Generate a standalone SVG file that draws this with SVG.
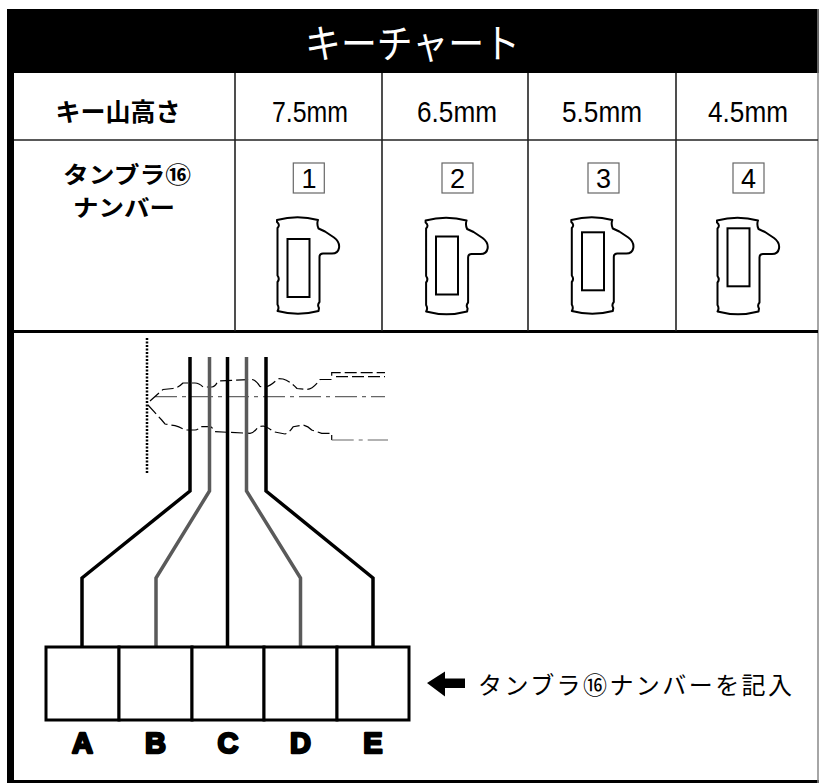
<svg xmlns="http://www.w3.org/2000/svg" width="819" height="783" viewBox="0 0 819 783">
<style>
.jp{font-family:"Noto Sans CJK JP","Noto Sans",sans-serif;}
.num{font-family:"Liberation Sans",Arial,sans-serif;fill:#000;}
.grid{stroke:#222;stroke-width:1.6;fill:none}
.tumb{fill:none;stroke:#000;stroke-width:2;stroke-linejoin:round}
.inner{fill:none;stroke:#000;stroke-width:2}
.nbox{fill:#fff;stroke:#666;stroke-width:1.2}
.wire{fill:none;stroke-width:3.5;stroke-linejoin:miter}
.blk{stroke:#000}
.gry{stroke:#5a5a5a}
.slot{fill:#fff;stroke:#000;stroke-width:3}
.lbl{font-family:"Liberation Sans",Arial,sans-serif;font-weight:bold;font-size:29px;fill:#000;stroke:#000;stroke-width:2.4;stroke-linejoin:round;text-anchor:middle}
.kp{fill:none;stroke:#000;stroke-width:1.2;stroke-dasharray:12 4}
.kc{fill:none;stroke:#666;stroke-width:1.2;stroke-dasharray:22 5 4 5}
</style>
<defs>
<path id="tb" d="M0,4 Q20.5,-1.5 41,4 Q39.5,8 41.5,12.5 L48,15.5 L57,21.5 Q63,26 62,32 Q61,37.5 55,37.5 L46,37.5 Q42.5,37.5 42.5,41 L42.5,86 Q40,89 42,92 L41.5,95 Q21,100.5 0.5,95 Q2.5,92 0.5,88.5 L0.5,66 Q3,63 0.5,59.5 L0.5,12 Q3.5,9 0,6 Z"/>
</defs>
<rect width="819" height="783" fill="#fff"/>

<g id="frame">
<rect x="7" y="9" width="812" height="64" fill="#000"/>
<rect x="7" y="9" width="7" height="774" fill="#000"/>
<rect x="7" y="780" width="812" height="3" fill="#000"/>
<line x1="818" y1="9" x2="818" y2="783" stroke="#888" stroke-width="1.5"/>
<text class="jp" x="305" y="58" font-size="40" fill="#fff" textLength="215" lengthAdjust="spacingAndGlyphs">キーチャート</text>
</g>

<g id="table">
<line class="grid" x1="14" y1="140" x2="818" y2="140" stroke-width="2"/>
<line x1="14" y1="331.5" x2="818" y2="331.5" stroke="#000" stroke-width="3"/>
<line class="grid" x1="235" y1="73" x2="235" y2="331"/>
<line class="grid" x1="382" y1="73" x2="382" y2="331"/>
<line class="grid" x1="528" y1="73" x2="528" y2="331"/>
<line class="grid" x1="676" y1="73" x2="676" y2="331"/>
<text class="jp" x="118" y="121" font-size="25" font-weight="bold" text-anchor="middle">キー山高さ</text>
<text class="num" x="272" y="121.5" font-size="30" textLength="76" lengthAdjust="spacingAndGlyphs">7.5mm</text>
<text class="num" x="417" y="121.5" font-size="30" textLength="80" lengthAdjust="spacingAndGlyphs">6.5mm</text>
<text class="num" x="562" y="121.5" font-size="30" textLength="80" lengthAdjust="spacingAndGlyphs">5.5mm</text>
<text class="num" x="708" y="121.5" font-size="30" textLength="80" lengthAdjust="spacingAndGlyphs">4.5mm</text>
<text class="jp" x="127" y="183" font-size="23" font-weight="bold" text-anchor="middle" textLength="128" lengthAdjust="spacingAndGlyphs">タンブラ⑯</text>
<text class="jp" x="124" y="216" font-size="23" font-weight="bold" text-anchor="middle" textLength="102" lengthAdjust="spacingAndGlyphs">ナンバー</text>
</g>

<g id="tumbler1">
<rect class="nbox" x="293.3" y="163" width="31" height="30"/>
<text class="num" x="309" y="188" font-size="27" text-anchor="middle">1</text>
<use href="#tb" class="tumb" x="277" y="216"/>
<rect class="inner" x="287.5" y="239" width="22" height="58"/>
</g>
<g id="tumbler2">
<rect class="nbox" x="442" y="163" width="31" height="30"/>
<text class="num" x="457.5" y="188" font-size="27" text-anchor="middle">2</text>
<use href="#tb" class="tumb" x="425.6" y="216.5"/>
<rect class="inner" x="436" y="236.5" width="22" height="58"/>
</g>
<g id="tumbler3">
<rect class="nbox" x="588" y="163" width="31" height="30"/>
<text class="num" x="603.5" y="188" font-size="27" text-anchor="middle">3</text>
<use href="#tb" class="tumb" x="571.3" y="216"/>
<rect class="inner" x="582" y="232.3" width="22" height="58"/>
</g>
<g id="tumbler4">
<rect class="nbox" x="733" y="163" width="31" height="30"/>
<text class="num" x="748.5" y="188" font-size="27" text-anchor="middle">4</text>
<use href="#tb" class="tumb" x="717" y="216.5"/>
<rect class="inner" x="727.5" y="228.3" width="22" height="58"/>
</g>

<g id="key">
<line x1="147" y1="338" x2="147" y2="474" stroke="#000" stroke-width="2.5" stroke-dasharray="2 1.5"/>
<path class="kc" d="M155,396.7 L385,396.7"/>
<path class="kp" d="M150,401 L163,389.5 L173,388.5 Q178,388 183,383 L195,383 Q199,383 203,387 L212,387 Q215,387 218,381 L252,379.5 Q256,380 260,386.5 L265,387 Q271,386 278,378.5 L283,379 Q290,381 297,388.5 L307,389.5 Q313,389 320,379.5 L331.7,379.5 L331.7,372.7 L385,372.7"/>
<path class="kp" d="M336,376.7 L385,376.7" stroke-dasharray="30 3 16 3"/>
<path class="kp" d="M148,405 L161.7,420 L165,424 L175,425.7 Q180,427 185,430 L195,430 Q198,430 200,426.7 L210,426.7 Q212,427 215,431.7 L250,433.3 Q254,433 258.3,426.7 L263.3,426 Q268,427 273.3,431.7 L285,434 Q289,433 293.3,426.7 L303.3,425 Q308,426 311.7,430 L321.7,433.3 L331.7,433.3 L331.7,440"/>
<path class="kc" d="M331.7,440 L388,440"/>
</g>

<g id="connectors">
<path class="wire blk" d="M190,357 V491 L82,578 V647"/>
<path class="wire gry" d="M209.5,357 V491 L156,578 V647"/>
<path class="wire blk" d="M227.5,357 V647"/>
<path class="wire gry" d="M246.5,357 V491 L300.5,578 V647"/>
<path class="wire blk" d="M266,357 V491 L373,578 V647"/>
</g>

<g id="slotA"><rect class="slot" x="46" y="647" width="73" height="73"/><text class="lbl" x="82.5" y="753">A</text></g>
<g id="slotB"><rect class="slot" x="119" y="647" width="73" height="73"/><text class="lbl" x="155.5" y="753">B</text></g>
<g id="slotC"><rect class="slot" x="192" y="647" width="72" height="73"/><text class="lbl" x="228" y="753">C</text></g>
<g id="slotD"><rect class="slot" x="264" y="647" width="73" height="73"/><text class="lbl" x="300.5" y="753">D</text></g>
<g id="slotE"><rect class="slot" x="337" y="647" width="72" height="73"/><text class="lbl" x="373" y="753">E</text></g>

<g id="note">
<path d="M427,683 L445,671.5 L445,678.5 L465,678.5 L465,688 L445,688 L445,696.5 Z" fill="#000"/>
<text class="jp" x="478" y="694" font-size="24" textLength="314" lengthAdjust="spacing">タンブラ⑯ナンバーを記入</text>
</g>
</svg>
